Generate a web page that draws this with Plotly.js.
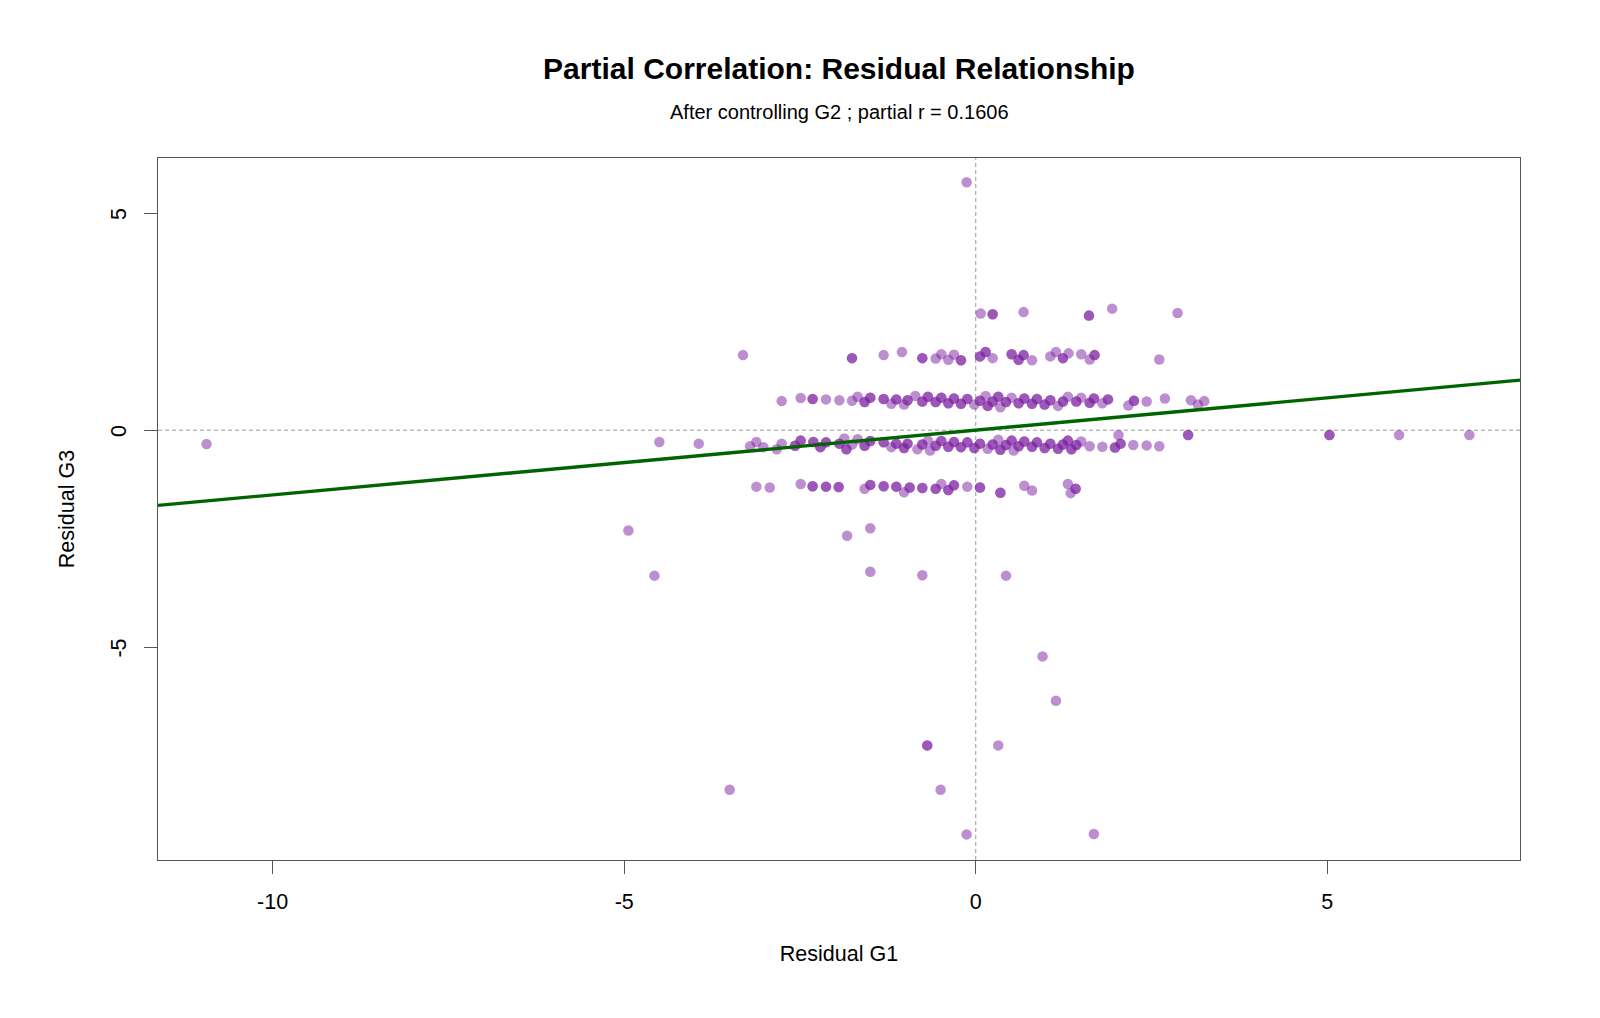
<!DOCTYPE html>
<html>
<head>
<meta charset="utf-8">
<script src="https://cdn.plot.ly/plotly-3.0.1.min.js"></script>
<style>
  html, body { margin: 0; padding: 0; background: #ffffff; }
  #chart { width: 1600px; height: 1018px; }
</style>
</head>
<body>
<div id="chart"></div>
<script>
// Residuals of G1 and G3 after each is regressed on G2.
// nStudents = how many students share the same (residual G1, residual G3) point.
const residG1 = [
  // scattered points
  -10.94, -4.50, -3.94, -4.94, -4.57, -3.31, -3.50, -0.13, -1.83, -1.50, -1.50, -0.76, 0.43, 0.95, 1.14,
  -0.69, 0.32, -0.50, -0.13, 1.68, 5.03, 6.02, 7.02, 3.02, 2.03, 2.61, 2.87, 1.94, 1.61, 0.68, 0.24, 0.07,
  // band near +1.7
  -1.76, -1.31, -1.05, -0.76, -0.57, -0.49, -0.39, -0.31, -0.21, 0.06, 0.14, 0.24, 0.51, 0.61, 0.68, 0.80,
  1.06, 1.14, 1.24, 1.32, 1.50, 1.62, 1.69,
  // band near +0.7
  -2.76, -2.49, -2.32, -2.13, -1.94, -1.76, -1.68, -1.58, -1.50, -1.31, -1.20, -1.13, -1.02, -0.97, -0.86,
  -0.76, -0.68, -0.57, -0.49, -0.39, -0.31, -0.21, -0.12, -0.02, 0.06, 0.14, 0.17, 0.24, 0.32, 0.35, 0.43,
  0.51, 0.61, 0.69, 0.80, 0.87, 0.98, 1.06, 1.17, 1.24, 1.31, 1.43, 1.50, 1.62, 1.68, 1.80, 1.88, 2.17,
  2.25, 2.43, 2.69, 3.06, 3.16, 3.25,
  // band near -0.35
  -3.21, -3.12, -3.02, -2.83, -2.76, -2.57, -2.49, -2.31, -2.21, -2.13, -1.94, -1.87, -1.84, -1.76, -1.68,
  -1.58, -1.50, -1.31, -1.20, -1.13, -1.02, -0.97, -0.83, -0.76, -0.68, -0.65, -0.57, -0.49, -0.39, -0.31,
  -0.21, -0.12, -0.02, 0.06, 0.17, 0.24, 0.32, 0.35, 0.43, 0.51, 0.54, 0.61, 0.69, 0.80, 0.87, 0.98, 1.06,
  1.17, 1.24, 1.31, 1.36, 1.43, 1.50, 1.62, 1.80, 1.98, 2.06, 2.24, 2.43, 2.61,
  // band near -1.3
  -3.12, -2.93, -2.49, -2.32, -2.13, -1.95, -1.58, -1.50, -1.31, -1.13, -1.02, -0.94, -0.76, -0.57, -0.49,
  -0.39, -0.31, -0.12, 0.06, 0.35, 0.69, 0.80, 1.31, 1.35, 1.42
];

const residG3 = [
  -0.32, -0.27, -0.31, -2.31, -3.35, 1.73, -8.28, 5.71, -2.43, -2.26, -3.26, -3.34, -3.35, -5.21, -6.23,
  -7.26, -7.26, -8.28, -9.31, -9.30, -0.11, -0.11, -0.11, -0.11, -0.11, 1.63, 2.70, 2.80, 2.64, 2.72, 2.67, 2.69,

  1.66, 1.73, 1.80, 1.66, 1.65, 1.75, 1.62, 1.74, 1.61, 1.70, 1.80, 1.66, 1.75, 1.62, 1.73, 1.61,
  1.70, 1.80, 1.66, 1.77, 1.75, 1.63, 1.73,

  0.67, 0.74, 0.72, 0.71, 0.69, 0.68, 0.77, 0.65, 0.75, 0.72, 0.61, 0.71, 0.59, 0.69, 0.79,
  0.66, 0.77, 0.65, 0.75, 0.62, 0.73, 0.61, 0.72, 0.59, 0.68, 0.79, 0.56, 0.66, 0.77, 0.53, 0.65,
  0.75, 0.62, 0.73, 0.61, 0.72, 0.59, 0.69, 0.56, 0.66, 0.77, 0.66, 0.75, 0.63, 0.73, 0.62, 0.71, 0.57,
  0.68, 0.66, 0.73, 0.69, 0.59, 0.67,

  -0.37, -0.27, -0.39, -0.44, -0.31, -0.36, -0.24, -0.27, -0.39, -0.28, -0.31, -0.19, -0.44, -0.33, -0.21,
  -0.36, -0.25, -0.28, -0.39, -0.31, -0.41, -0.31, -0.44, -0.33, -0.24, -0.47, -0.36, -0.25, -0.38, -0.27,
  -0.39, -0.28, -0.41, -0.31, -0.43, -0.33, -0.22, -0.45, -0.34, -0.24, -0.47, -0.37, -0.26, -0.38, -0.28, -0.41, -0.31,
  -0.43, -0.33, -0.24, -0.44, -0.34, -0.26, -0.37, -0.38, -0.40, -0.31, -0.34, -0.35, -0.37,

  -1.30, -1.32, -1.24, -1.29, -1.30, -1.31, -1.35, -1.26, -1.29, -1.30, -1.43, -1.32, -1.33, -1.35, -1.24,
  -1.38, -1.27, -1.30, -1.32, -1.44, -1.28, -1.39, -1.24, -1.45, -1.35
];

const nStudents = [
  1, 1, 1, 1, 1, 1, 1, 1, 1, 1, 1, 1, 1, 1, 1,
  2, 1, 1, 1, 1, 2, 1, 1, 2, 1, 1, 1, 1, 2, 1, 2, 1,

  2, 1, 1, 2, 1, 1, 1, 1, 2, 2, 2, 1, 2, 2, 2, 1,
  1, 1, 2, 1, 1, 1, 2,

  1, 1, 2, 1, 1, 1, 1, 2, 2, 2, 1, 2, 1, 2, 1,
  2, 2, 2, 2, 2, 2, 2, 2, 1, 2, 1, 2, 2, 2, 1, 2,
  1, 2, 2, 2, 2, 2, 2, 1, 2, 1, 2, 1, 2, 2, 1, 2, 1,
  2, 1, 1, 1, 1, 1,

  1, 1, 1, 1, 1, 2, 2, 2, 2, 2, 2, 1, 2, 1, 1,
  2, 2, 2, 1, 2, 2, 2, 1, 2, 1, 1, 2, 2, 2, 2,
  2, 2, 2, 2, 1, 2, 1, 2, 2, 2, 1, 2, 2, 2, 2, 2, 2,
  2, 2, 2, 2, 2, 1, 1, 1, 2, 2, 1, 1, 1,

  1, 1, 1, 2, 2, 2, 1, 2, 2, 2, 1, 2, 2, 2, 1,
  2, 2, 1, 2, 2, 1, 1, 1, 1, 2
];

const partialR = 0.1606;
const controlVar = 'G2';
const fitSlope = 0.149;      // least-squares slope of residual G3 on residual G1
const fitIntercept = 0;

const xRange = [-11.63, 7.74];
const yRange = [-9.90, 6.27];
const xTicks = [-10, -5, 0, 5];
const yTicks = [-5, 0, 5];

// one marker per student, so shared points build up darker
const px = [], py = [];
residG1.forEach((v, i) => {
  for (let k = 0; k < nStudents[i]; k++) { px.push(v); py.push(residG3[i]); }
});

const FONT = 'Liberation Sans, Arial, sans-serif';

const points = {
  type: 'scatter',
  mode: 'markers',
  x: px,
  y: py,
  marker: { size: 10.5, color: 'rgba(123,31,162,0.5)', line: { width: 0 } },
  hoverinfo: 'x+y',
  showlegend: false
};

const fit = {
  type: 'scatter',
  mode: 'lines',
  x: xRange,
  y: xRange.map(v => fitIntercept + fitSlope * v),
  line: { color: '#006400', width: 3.4 },
  hoverinfo: 'skip',
  showlegend: false
};

const layout = {
  width: 1600,
  height: 1018,
  margin: { l: 158, r: 80, t: 158, b: 158 },
  paper_bgcolor: '#ffffff',
  plot_bgcolor: '#ffffff',
  font: { family: FONT, color: '#000000' },
  title: {
    text: '<b>Partial Correlation: Residual Relationship</b>',
    font: { family: FONT, size: 30, color: '#000000' },
    x: 0.5, xref: 'paper', xanchor: 'center',
    y: 1 - 68 / 1018, yref: 'container', yanchor: 'middle'
  },
  annotations: [{
    text: 'After controlling ' + controlVar + ' ; partial r = ' + partialR.toFixed(4),
    xref: 'paper', yref: 'paper', x: 0.5, y: (860 - 112) / 702,
    xanchor: 'center', yanchor: 'middle', showarrow: false,
    font: { family: FONT, size: 20, color: '#000000' }
  }],
  xaxis: {
    range: xRange,
    tickvals: xTicks,
    ticktext: xTicks.map(String),
    showgrid: false, zeroline: false,
    showline: true, mirror: true, linecolor: '#555555', linewidth: 1.2,
    ticks: 'outside', ticklen: 13, tickcolor: '#555555', tickwidth: 1.2,
    tickfont: { family: FONT, size: 21.5, color: '#000000' },
    ticklabelstandoff: 9,
    title: { text: 'Residual G1', font: { family: FONT, size: 21.5, color: '#000000' }, standoff: 33 },
    automargin: false,
    fixedrange: true
  },
  yaxis: {
    range: yRange,
    tickvals: yTicks,
    ticktext: yTicks.map(String),
    tickangle: -90,
    ticklabelshift: 4,
    showgrid: false, zeroline: false,
    showline: true, mirror: true, linecolor: '#555555', linewidth: 1.2,
    ticks: 'outside', ticklen: 13, tickcolor: '#555555', tickwidth: 1.2,
    tickfont: { family: FONT, size: 21.5, color: '#000000' },
    ticklabelstandoff: 9,
    title: { text: 'Residual G3', font: { family: FONT, size: 21.5, color: '#000000' }, standoff: 26 },
    automargin: false,
    fixedrange: true
  },
  shapes: [
    { type: 'line', xref: 'x', yref: 'paper', x0: 0, x1: 0, y0: 0, y1: 1,
      line: { color: '#9a9a9a', width: 1, dash: '4px,3px' }, layer: 'below' },
    { type: 'line', xref: 'paper', yref: 'y', x0: 0, x1: 1, y0: 0, y1: 0,
      line: { color: '#9a9a9a', width: 1, dash: '4px,3px' }, layer: 'below' }
  ]
};

Plotly.newPlot('chart', [points, fit], layout, { displayModeBar: false, staticPlot: true });
</script>
</body>
</html>
